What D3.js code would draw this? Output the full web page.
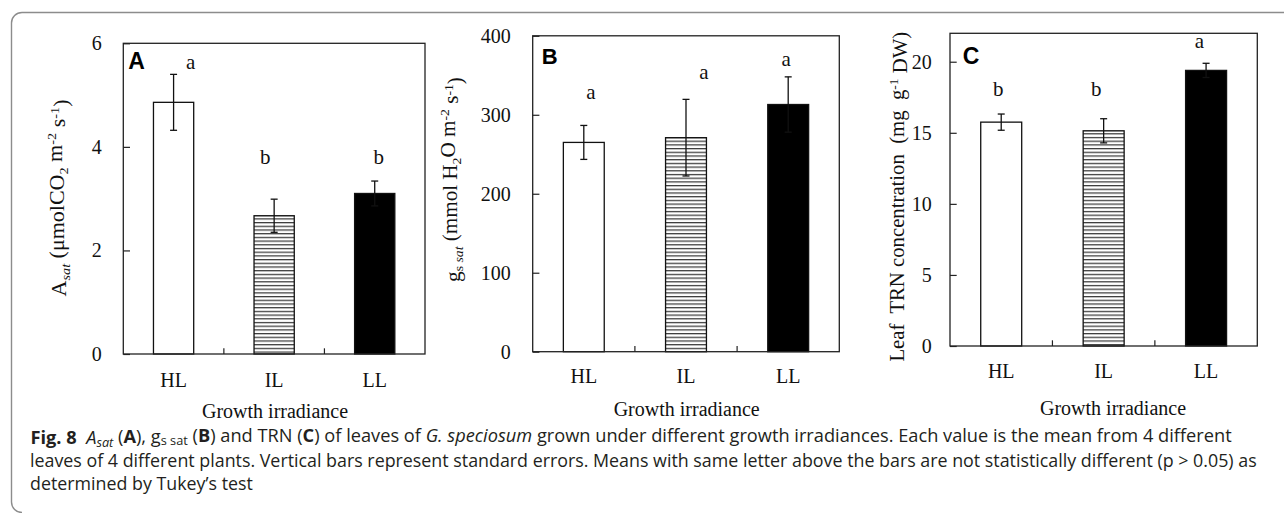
<!DOCTYPE html>
<html>
<head>
<meta charset="utf-8">
<script src="https://cdn.jsdelivr.net/npm/d3@7"></script>
<style>
  html, body { margin: 0; padding: 0; background: #fff; }
  svg { display: block; }
  text { white-space: pre; }
</style>
</head>
<body>
<svg id="chart" width="1284" height="513"></svg>
<script>
// ---------------- DATA ----------------
const categories = ["HL", "IL", "LL"];

const asatMean = [4.86, 2.67, 3.10];
const asatSE   = [0.54, 0.32, 0.24];
const asatLetters = ["a", "b", "b"];
const asatTicks = [0, 2, 4, 6];

const gsMean = [265, 271, 313];
const gsSE   = [21.5, 48.5, 35];
const gsLetters = ["a", "a", "a"];
const gsTicks = [0, 100, 200, 300, 400];

const trnMean = [15.75, 15.14, 19.39];
const trnSE   = [0.57, 0.85, 0.50];
const trnLetters = ["b", "b", "a"];
const trnTicks = [0, 5, 10, 15, 20];

const xTitle = "Growth irradiance";

// ---------------- LAYOUT ----------------
const svg = d3.select("#chart");
const serif = "'Liberation Serif', 'Times New Roman', serif";
const sans = "'Liberation Sans', Arial, sans-serif";
const fills = ["#ffffff", "url(#hatch)", "#000000"];

const defs = svg.append("defs");
const pat = defs.append("pattern").attr("id", "hatch")
  .attr("patternUnits", "userSpaceOnUse").attr("width", 8).attr("height", 3.7);
pat.append("rect").attr("width", 8).attr("height", 3.7).attr("fill", "#fff");
pat.append("rect").attr("y", 0).attr("width", 8).attr("height", 1.25).attr("fill", "#3a3a3a");

// outer frame
svg.append("path")
  .attr("d", "M1284,12.5 H22 A10.5,10.5 0 0 0 11.5,23 V502 A10.5,10.5 0 0 0 22,512.5")
  .attr("fill", "none").attr("stroke", "#8c8c8c").attr("stroke-width", 1.4);

const panels = [
  { tag: "A", mean: asatMean, se: asatSE, letters: asatLetters, ticks: asatTicks, yMax: 6,
    box: [123.3, 43.3, 425, 354], tickPad: 21.6,
    letterAt: [5.50, 3.67, 3.67], letterDx: [17, -9, 4],
    tagPos: [128.3, 69.3], tagSize: 23,
    ylab: { x: 66, y: 198, len: 197 }, catY: 32.7, title: [275, 418],
    ylabel: (t) => {
      t.append("tspan").text("A");
      t.append("tspan").attr("font-style", "italic").attr("font-size", "65%").attr("dy", "0.3em").text("sat");
      t.append("tspan").attr("dy", "-0.3em").text(" (μmolCO");
      t.append("tspan").attr("font-size", "65%").attr("dy", "0.3em").text("2");
      t.append("tspan").attr("dy", "-0.3em").text(" m");
      t.append("tspan").attr("font-size", "65%").attr("dy", "-0.45em").text("-2");
      t.append("tspan").attr("dy", "0.45em").text(" s");
      t.append("tspan").attr("font-size", "65%").attr("dy", "-0.45em").text("-1");
      t.append("tspan").attr("dy", "0.45em").text(")");
    } },
  { tag: "B", mean: gsMean, se: gsSE, letters: gsLetters, ticks: gsTicks, yMax: 400,
    box: [532.7, 35.8, 839.3, 351.7], tickPad: 22,
    letterAt: [320, 345, 362], letterDx: [7, 18, -2],
    tagPos: [541.7, 63.5], tagSize: 22,
    ylab: { x: 459.5, y: 179.5, len: 205 }, catY: 31.8, title: [686.7, 416],
    ylabel: (t) => {
      t.append("tspan").text("g");
      t.append("tspan").attr("font-size", "65%").attr("dy", "0.3em").text("s ");
      t.append("tspan").attr("font-size", "65%").attr("font-style", "italic").text("sat");
      t.append("tspan").attr("dy", "-0.3em").text(" (mmol H");
      t.append("tspan").attr("font-size", "65%").attr("dy", "0.3em").text("2");
      t.append("tspan").attr("dy", "-0.3em").text("O m");
      t.append("tspan").attr("font-size", "65%").attr("dy", "-0.45em").text("-2");
      t.append("tspan").attr("dy", "0.45em").text(" s");
      t.append("tspan").attr("font-size", "65%").attr("dy", "-0.45em").text("-1");
      t.append("tspan").attr("dy", "0.45em").text(")");
    } },
  { tag: "C", mean: trnMean, se: trnSE, letters: trnLetters, ticks: trnTicks, yMax: 22,
    box: [950, 33.3, 1257.3, 346], tickPad: 18.3,
    letterAt: [17.6, 17.6, 21.0], letterDx: [-3, -7.5, -6.7],
    tagPos: [962.7, 64.3], tagSize: 23,
    ylab: { x: 903.5, y: 196.7, len: 330 }, catY: 32.3, title: [1113, 415],
    ylabel: (t) => {
      t.append("tspan").text("Leaf  TRN concentration  (mg  g");
      t.append("tspan").attr("font-size", "65%").attr("dy", "-0.45em").text("-1");
      t.append("tspan").attr("dy", "0.45em").text(" DW)");
    } }
];

panels.forEach(p => {
  const [x0, y0, x1, y1] = p.box;
  const x = d3.scaleBand().domain(categories).range([x0, x1]).paddingInner(0).paddingOuter(0);
  const y = d3.scaleLinear().domain([0, p.yMax]).range([y1, y0]);
  const g = svg.append("g");
  const bw = x.bandwidth() * 0.4;
  const rows = categories.map((c, i) => ({ c, m: p.mean[i], se: p.se[i], i }));

  // bars
  g.selectAll("rect.bar").data(rows).join("rect")
    .attr("x", d => x(d.c) + (x.bandwidth() - bw) / 2)
    .attr("y", d => y(d.m))
    .attr("width", bw)
    .attr("height", d => y(0) - y(d.m))
    .attr("fill", d => fills[d.i])
    .attr("stroke", "#111").attr("stroke-width", 1.3);

  // error bars
  const cap = 3.5;
  rows.forEach(d => {
    const cx = x(d.c) + x.bandwidth() / 2;
    const e = g.append("g").attr("stroke", "#111").attr("stroke-width", 1.3);
    e.append("line").attr("x1", cx).attr("x2", cx).attr("y1", y(d.m + d.se)).attr("y2", y(d.m - d.se));
    e.append("line").attr("x1", cx - cap).attr("x2", cx + cap).attr("y1", y(d.m + d.se)).attr("y2", y(d.m + d.se));
    e.append("line").attr("x1", cx - cap).attr("x2", cx + cap).attr("y1", y(d.m - d.se)).attr("y2", y(d.m - d.se));
  });

  // plot box
  g.append("rect").attr("x", x0).attr("y", y0).attr("width", x1 - x0).attr("height", y1 - y0)
    .attr("fill", "none").attr("stroke", "#222").attr("stroke-width", 1.3);

  // y axis
  const ya = g.append("g").attr("transform", `translate(${x0},0)`)
    .call(d3.axisLeft(y).tickValues(p.ticks).tickSize(-6.7).tickPadding(p.tickPad).tickFormat(d3.format("d")));
  ya.select(".domain").remove();
  ya.selectAll(".tick line").attr("stroke", "#222").attr("stroke-width", 1.2);
  ya.selectAll(".tick text").attr("font-family", serif).attr("font-size", 20).attr("fill", "#111");

  // x axis (labels)
  const xa = g.append("g").attr("transform", `translate(0,${y1})`)
    .call(d3.axisBottom(x).tickSize(0));
  xa.select(".domain").remove();
  xa.selectAll(".tick text").attr("font-family", serif).attr("font-size", 20).attr("fill", "#111")
    .attr("dy", null).attr("y", p.catY);
  // category separators
  categories.slice(1).forEach(c => {
    g.append("line").attr("x1", x(c)).attr("x2", x(c)).attr("y1", y1).attr("y2", y1 - 5.7)
      .attr("stroke", "#222").attr("stroke-width", 1.2);
  });

  // significance letters
  g.selectAll("text.letter").data(rows).join("text")
    .attr("x", d => x(d.c) + x.bandwidth() / 2 + p.letterDx[d.i])
    .attr("y", d => y(p.letterAt[d.i]))
    .attr("text-anchor", "middle").attr("font-family", serif).attr("font-size", 21).attr("fill", "#111")
    .text((d, i) => p.letters[i]);

  // panel tag
  g.append("text").attr("x", p.tagPos[0]).attr("y", p.tagPos[1])
    .attr("font-family", sans).attr("font-weight", "bold").attr("font-size", p.tagSize).attr("fill", "#000")
    .text(p.tag);

  // y label (font size kept, length fitted by horizontal scaling)
  const yl = g.append("text")
    .attr("text-anchor", "middle").attr("font-family", serif).attr("font-size", 20).attr("fill", "#111");
  p.ylabel(yl);
  const w = yl.node().getBBox().width;
  const s = p.ylab.len / w;
  yl.attr("transform", `translate(${p.ylab.x},${p.ylab.y}) rotate(-90) scale(${s},1)`);

  // x title
  g.append("text").attr("x", p.title[0]).attr("y", p.title[1]).attr("text-anchor", "middle")
    .attr("font-family", serif).attr("font-size", 20).attr("fill", "#111").text(xTitle);
});

// ---------------- CAPTION ----------------
const capFont = "'Liberation Sans Narrow', 'Open Sans', 'Noto Sans', sans-serif";
const capLines = [
  { y: 444, x0: 30.5, x1: 1232, build: (t) => {
      t.append("tspan").attr("font-weight", "bold").text("Fig. 8");
      t.append("tspan").text("  ");
      t.append("tspan").attr("font-style", "italic").text("A");
      t.append("tspan").attr("font-style", "italic").attr("font-size", "70%").attr("dy", "0.2em").text("sat");
      t.append("tspan").attr("dy", "-0.2em").text(" (");
      t.append("tspan").attr("font-weight", "bold").text("A");
      t.append("tspan").text("), g");
      t.append("tspan").attr("font-size", "70%").attr("dy", "0.2em").text("s sat");
      t.append("tspan").attr("dy", "-0.2em").text(" (");
      t.append("tspan").attr("font-weight", "bold").text("B");
      t.append("tspan").text(") and TRN (");
      t.append("tspan").attr("font-weight", "bold").text("C");
      t.append("tspan").text(") of leaves of ");
      t.append("tspan").attr("font-style", "italic").text("G. speciosum");
      t.append("tspan").text(" grown under different growth irradiances. Each value is the mean from 4 different");
    } },
  { y: 467.3, x0: 30, x1: 1258, build: (t) => {
      t.append("tspan").text("leaves of 4 different plants. Vertical bars represent standard errors. Means with same letter above the bars are not statistically different (p > 0.05) as");
    } },
  { y: 490.3, x0: 30, x1: 253, build: (t) => {
      t.append("tspan").text("determined by Tukey\u2019s test");
    } }
];
capLines.forEach(l => {
  const t = svg.append("text").attr("x", 0).attr("y", 0)
    .attr("font-family", capFont).attr("font-size", 18).attr("fill", "#231f20");
  l.build(t);
  const w = t.node().getBBox().width;
  const sx = (l.x1 - l.x0) / w;
  t.attr("transform", `translate(${l.x0},${l.y}) scale(${sx},1)`);
});
</script>
</body>
</html>
